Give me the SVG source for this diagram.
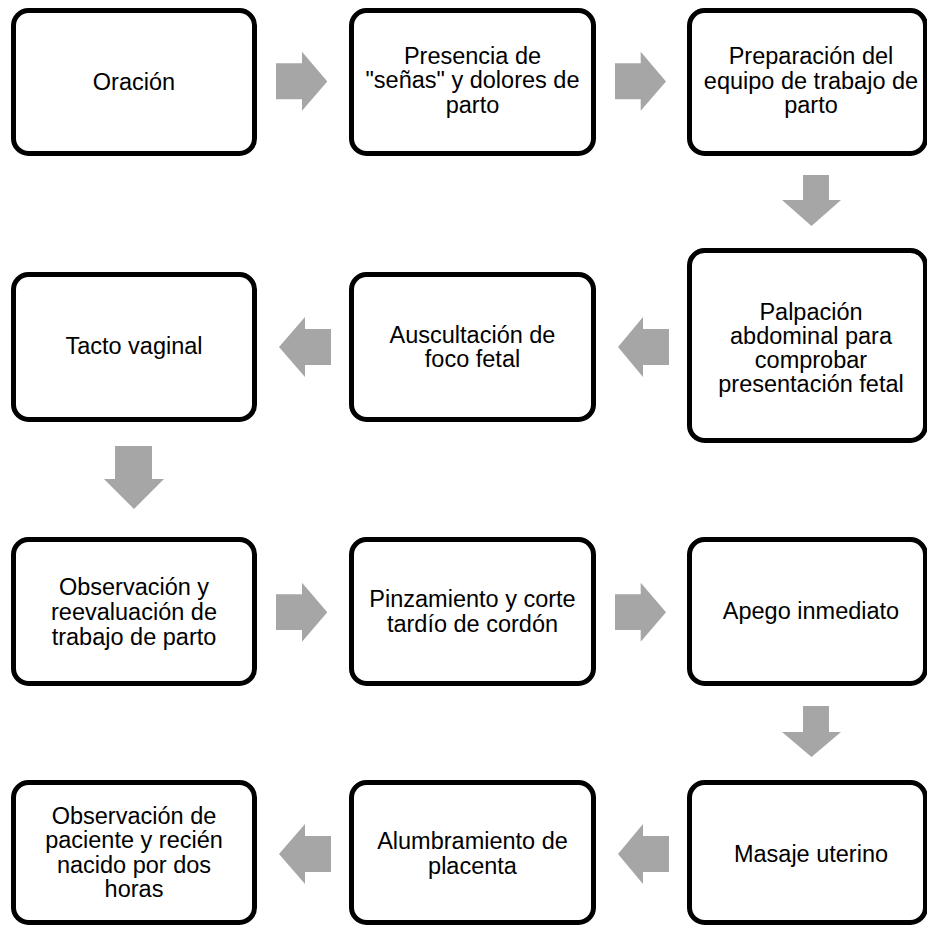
<svg xmlns="http://www.w3.org/2000/svg" width="927" height="927" viewBox="0 0 927 927">
<style>
.box{fill:#fff;stroke:#000;stroke-width:5}
.lbl{font-family:"Liberation Sans",Arial,sans-serif;font-size:23.5px;fill:#000;text-anchor:middle}
.arr{fill:#A6A6A6}
</style>
<rect width="927" height="927" fill="#fff"/>
<g id="connectors">
<polygon class="arr" points="276,63.3 302,63.3 302,51.7 327.3,81.5 302,110.7 302,99.3 276,99.3"/>
<polygon class="arr" points="615,63.3 640.7,63.3 640.7,51.7 666,81.5 640.7,110.7 640.7,99.3 615,99.3"/>
<polygon class="arr" points="803,175 829,175 829,200 841,200 811.5,226 782,200 803,200"/>
<polygon class="arr" points="669,329 643,329 643,317 618,347 643,377 643,365 669,365"/>
<polygon class="arr" points="331,329 305,329 305,317 279,347 305,377 305,365 331,365"/>
<polygon class="arr" points="115,446 152,446 152,479 164,479 134,509 104,479 115,479"/>
<polygon class="arr" points="276,594.3 302,594.3 302,582.7 327.3,612.3 302,641.7 302,630 276,630"/>
<polygon class="arr" points="615,594.3 640.7,594.3 640.7,582.7 666,612.3 640.7,641.7 640.7,630 615,630"/>
<polygon class="arr" points="803,706 829,706 829,732 841,732 811.5,757 782,732 803,732"/>
<polygon class="arr" points="669,836 643,836 643,824 618,854 643,884 643,872 669,872"/>
<polygon class="arr" points="331,836 305,836 305,824 279,854 305,884 305,872 331,872"/>
</g>
<g id="n1"><rect class="box" x="13.5" y="10.5" width="241" height="143" rx="15"/>
<text class="lbl" x="134" y="90">Oración</text></g>
<g id="n2"><rect class="box" x="351.5" y="10.5" width="242" height="143" rx="15"/>
<text class="lbl"><tspan x="472.5" y="63.5">Presencia de</tspan><tspan x="472.5" y="88">"señas" y dolores de</tspan><tspan x="472.5" y="112.5">parto</tspan></text></g>
<g id="n3"><rect class="box" x="689.5" y="10.5" width="236" height="143" rx="15"/>
<text class="lbl"><tspan x="811" y="64">Preparación del</tspan><tspan x="811" y="88.5">equipo de trabajo de</tspan><tspan x="811" y="113">parto</tspan></text></g>
<g id="n4"><rect class="box" x="689.5" y="250.5" width="236" height="190" rx="15"/>
<text class="lbl"><tspan x="811" y="320">Palpación</tspan><tspan x="811" y="344">abdominal para</tspan><tspan x="811" y="368">comprobar</tspan><tspan x="811" y="392">presentación fetal</tspan></text></g>
<g id="n5"><rect class="box" x="351.5" y="274.5" width="242" height="145" rx="15"/>
<text class="lbl"><tspan x="472.5" y="343">Auscultación de</tspan><tspan x="472.5" y="367">foco fetal</tspan></text></g>
<g id="n6"><rect class="box" x="13.5" y="274.5" width="241" height="145" rx="15"/>
<text class="lbl" x="134" y="354">Tacto vaginal</text></g>
<g id="n7"><rect class="box" x="13.5" y="539.5" width="241" height="144" rx="15"/>
<text class="lbl"><tspan x="134" y="595">Observación y</tspan><tspan x="134" y="620">reevaluación de</tspan><tspan x="134" y="644.5">trabajo de parto</tspan></text></g>
<g id="n8"><rect class="box" x="351.5" y="539.5" width="242" height="144" rx="15"/>
<text class="lbl"><tspan x="472.5" y="607">Pinzamiento y corte</tspan><tspan x="472.5" y="632">tardío de cordón</tspan></text></g>
<g id="n9"><rect class="box" x="689.5" y="539.5" width="236" height="144" rx="15"/>
<text class="lbl" x="811" y="619">Apego inmediato</text></g>
<g id="n10"><rect class="box" x="689.5" y="782.5" width="236" height="140" rx="15"/>
<text class="lbl" x="811" y="862">Masaje uterino</text></g>
<g id="n11"><rect class="box" x="351.5" y="782.5" width="242" height="140" rx="15"/>
<text class="lbl"><tspan x="472.5" y="849">Alumbramiento de</tspan><tspan x="472.5" y="873.5">placenta</tspan></text></g>
<g id="n12"><rect class="box" x="13.5" y="782.5" width="241" height="140" rx="15"/>
<text class="lbl"><tspan x="134" y="823.5">Observación de</tspan><tspan x="134" y="848">paciente y recién</tspan><tspan x="134" y="872.5">nacido por dos</tspan><tspan x="134" y="897">horas</tspan></text></g>
</svg>
